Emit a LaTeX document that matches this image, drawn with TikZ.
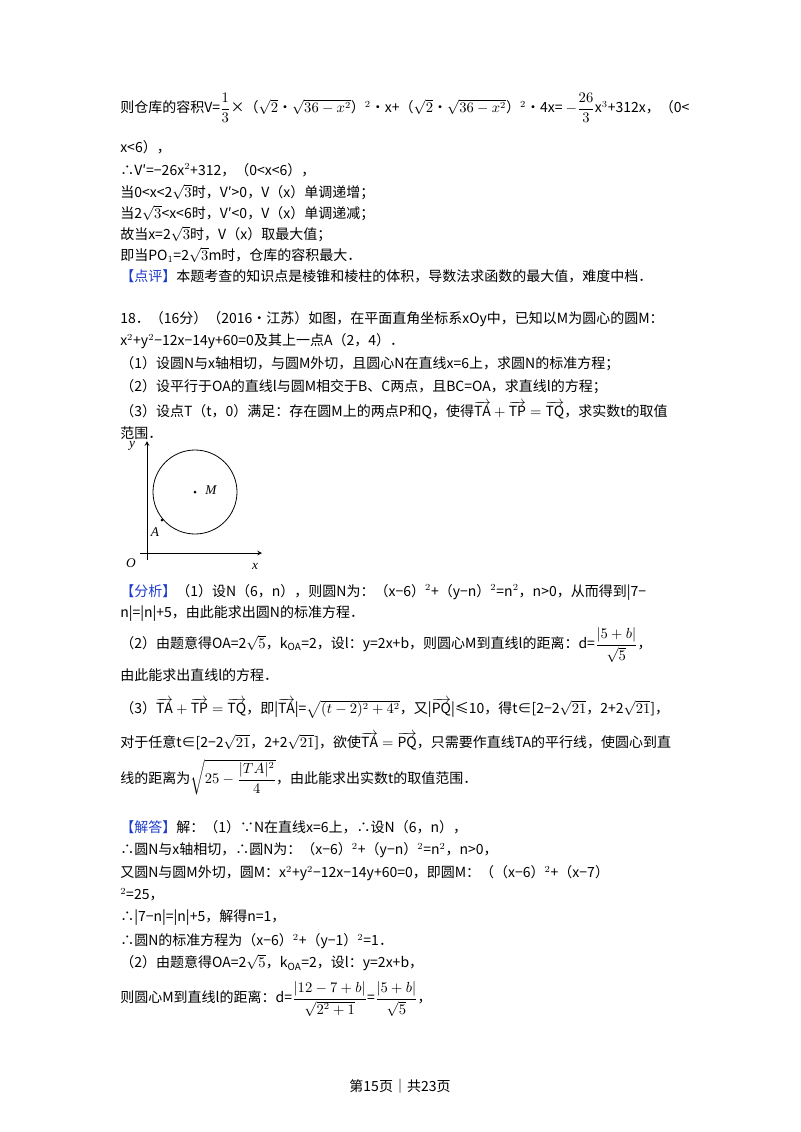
\documentclass[tikz,border=0pt]{standalone}
\usepackage{amsmath}
\usepackage{fontspec}
\setmainfont{Noto Sans CJK SC}
\newfontfamily\serifit{Liberation Serif}
\definecolor{tagblue}{RGB}{30,60,200}
\newcommand{\vecx}[1]{\overrightarrow{\mathrm{#1}}}
\begin{document}
\begin{tikzpicture}[x=0.75pt,y=-0.75pt,
  t/.style={anchor=west,inner sep=0,font=\fontsize{10.5}{12}\selectfont},
  axis/.style={line width=0.6pt},
  lbl/.style={inner sep=0,font=\serifit\itshape\fontsize{10}{12}\selectfont}]
\useasboundingbox (0,0) rectangle (800,1132);
\node[t] (l1) at (120,108) {则仓库的容积V=$\dfrac{1}{3}$×（$\sqrt2$•$\sqrt{36-x^2}$）$^2$•x+（$\sqrt2$•$\sqrt{36-x^2}$）$^2$•4x= $-\dfrac{26}{3}$x$^3$+312x，（0<};
\node[t] (l2) at (120,147) {x<6），};
\node[t] (l3) at (120,170) {∴V′=−26x$^2$+312，（0<x<6），};
\node[t] (l4) at (120,192) {当0<x<2$\sqrt3$时，V′>0，V（x）单调递增；};
\node[t] (l5) at (120,213) {当2$\sqrt3$<x<6时，V′<0，V（x）单调递减；};
\node[t] (l6) at (120,234) {故当x=2$\sqrt3$时，V（x）取最大值；};
\node[t] (l7) at (120,255) {即当PO$_1$=2$\sqrt3$m时，仓库的容积最大．};
\node[t] (l8) at (120,276) {\textcolor{tagblue}{【点评】}本题考查的知识点是棱锥和棱柱的体积，导数法求函数的最大值，难度中档．};
\node[t] (q1) at (120,319) {18．（16分）（2016•江苏）如图，在平面直角坐标系xOy中，已知以M为圆心的圆M：};
\node[t] (q2) at (120,341) {x$^2$+y$^2$−12x−14y+60=0及其上一点A（2，4）．};
\node[t] (q3) at (120,364) {（1）设圆N与x轴相切，与圆M外切，且圆心N在直线x=6上，求圆N的标准方程；};
\node[t] (q4) at (120,387) {（2）设平行于OA的直线l与圆M相交于B、C两点，且BC=OA，求直线l的方程；};
\node[t] (q5) at (120,410) {（3）设点T（t，0）满足：存在圆M上的两点P和Q，使得$\vecx{TA}+\vecx{TP}=\vecx{TQ}$，求实数t的取值};
\node[t] (q6) at (120,433) {范围．};
% figure
\coordinate (xe) at (262,553);
\coordinate (ye) at (147,441);
\draw[axis,-stealth] (140,553) -- (xe);
\draw[axis,-stealth] (147,560) -- (ye);
\node[circle,draw,line width=0.6pt,minimum size=63pt,inner sep=0] (circ) at (195,492) {};
\fill (195,492) circle (1.5);
\fill (162,520) circle (1.5);
\node[lbl] (ly) at (132,446) {y};
\node[lbl] (lo) at (131,563) {O};
\node[lbl] (lx) at (255,566) {x};
\node[lbl] (lm) at (211,490) {M};
\node[lbl] (la) at (155,532) {A};
% analysis
\node[t] (a1) at (120,592) {\textcolor{tagblue}{【分析】}（1）设N（6，n），则圆N为：（x−6）$^2$+（y−n）$^2$=n$^2$，n>0，从而得到|7−};
\node[t] (a2) at (120,614) {n|=|n|+5，由此能求出圆N的标准方程．};
\node[t] (a3) at (120,645) {（2）由题意得OA=2$\sqrt5$，k$_{\mathrm{OA}}$=2，设l：y=2x+b，则圆心M到直线l的距离：d=$\dfrac{|5+b|}{\sqrt5}$，};
\node[t] (a4) at (120,675) {由此能求出直线l的方程．};
\node[t] (a5) at (120,708) {（3）$\vecx{TA}+\vecx{TP}=\vecx{TQ}$，即|$\vecx{TA}$|=$\sqrt{(t-2)^2+4^2}$，又|$\vecx{PQ}$|≤10，得t∈[2−2$\sqrt{21}$，2+2$\sqrt{21}$]，};
\node[t] (a6) at (120,741) {对于任意t∈[2−2$\sqrt{21}$，2+2$\sqrt{21}$]，欲使$\vecx{TA}=\vecx{PQ}$，只需要作直线TA的平行线，使圆心到直};
\node[t] (a7) at (120,777) {线的距离为$\sqrt{25-\dfrac{|TA|^2}{4}}$，由此能求出实数t的取值范围．};
% solution
\node[t] (s1) at (120,827) {\textcolor{tagblue}{【解答】}解：（1）∵N在直线x=6上，∴设N（6，n），};
\node[t] (s2) at (120,850) {∴圆N与x轴相切，∴圆N为：（x−6）$^2$+（y−n）$^2$=n$^2$，n>0，};
\node[t] (s3) at (120,873) {又圆N与圆M外切，圆M：x$^2$+y$^2$−12x−14y+60=0，即圆M：（（x−6）$^2$+（x−7）};
\node[t] (s4) at (120,895) {$^2$=25，};
\node[t] (s5) at (120,918) {∴|7−n|=|n|+5，解得n=1，};
\node[t] (s6) at (120,941) {∴圆N的标准方程为（x−6）$^2$+（y−1）$^2$=1．};
\node[t] (s7) at (120,963) {（2）由题意得OA=2$\sqrt5$，k$_{\mathrm{OA}}$=2，设l：y=2x+b，};
\node[t] (s8) at (120,999) {则圆心M到直线l的距离：d=$\dfrac{|12-7+b|}{\sqrt{2^2+1}}$=$\dfrac{|5+b|}{\sqrt5}$，};
\node[inner sep=0,font=\fontsize{10.5}{12}\selectfont] (foot) at (400,1086) {第15页｜共23页};
\end{tikzpicture}
\end{document}
